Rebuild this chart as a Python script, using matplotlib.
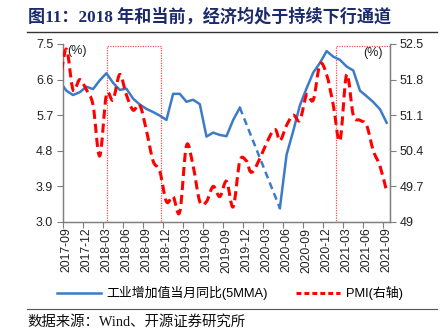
import matplotlib
matplotlib.use('Agg')
import matplotlib.pyplot as plt
import numpy as np
import pandas as pd
from matplotlib.path import Path
from matplotlib.patches import PathPatch, Rectangle
from matplotlib.lines import Line2D

# ---------------- data ----------------
months = pd.period_range('2017-08', '2021-09', freq='M').strftime('%Y-%m').tolist()

ip_5mma = [6.56, 6.32, 6.21, 6.28, 6.42,
           6.36, 6.58, 6.76, 6.52, 6.34, 6.37, 6.12, 5.97, 5.86, 5.78, 5.69, 5.58,
           6.24, 6.24, 6.04, 6.09, 5.98, 5.16, 5.26, 5.20, 5.17, 5.58, 5.89, np.nan,
           np.nan, np.nan, np.nan, np.nan, 3.35, 4.70, 5.30, 5.95, 6.38, 6.78, 7.02, 7.32,
           7.18, 7.10, 6.93, 6.83, 6.32, 6.18, 6.03, 5.85, 5.51]

pmi = [51.7, 52.4, 51.6, 51.8, 51.6,
       51.3, 50.3, 51.5, 51.4, 51.9, 51.5, 51.2, 51.3, 50.8, 50.2, 50.0, 49.4,
       49.5, 49.2, 50.5, 50.1, 49.4, 49.4, 49.7, 49.5, 49.8, 49.3, 50.2, 50.2,
       50.0, np.nan, np.nan, 50.8, 50.6, 50.9, 51.1, 51.0, 51.5, 51.4, 52.1, 51.9,
       51.3, 50.6, 51.9, 51.1, 51.0, 50.9, 50.4, 50.1, 49.6]

tick_labels = ['2017-09', '2017-12', '2018-03', '2018-06', '2018-09', '2018-12',
               '2019-03', '2019-06', '2019-09', '2019-12', '2020-03', '2020-06',
               '2020-09', '2020-12', '2021-03', '2021-06', '2021-09']
left_ticks = [3.0, 3.9, 4.8, 5.7, 6.6, 7.5]
left_tick_labels = ['3.0', '3.9', '4.8', '5.7', '6.6', '7.5']
right_ticks = [49, 49.7, 50.4, 51.1, 51.8, 52.5]
right_tick_labels = ['49', '49.7', '50.4', '51.1', '51.8', '52.5']

title = '图11：2018 年和当前，经济均处于持续下行通道'
legend_labels = ['工业增加值当月同比(5MMA)', 'PMI(右轴)']
source = '数据来源：Wind、开源证券研究所'

# ---------------- style ----------------
BLUE = '#3b7bc8'
RED = '#ff0000'
GRAY = '#7f7f7f'
CJK = ['Liberation Sans', 'Noto Sans CJK SC']
plt.rcParams['font.family'] = CJK

fig = plt.figure(figsize=(4.46, 3.36), dpi=100)
ax = fig.add_axes([63 / 446, 114 / 336, 327 / 446, 178 / 336])
ax2 = ax.twinx()

x = np.arange(len(months)) - 1  # index 0 = 2017-09
ip = np.array(ip_5mma, dtype=float)
pm = np.array(pmi, dtype=float)

# blue solid line (gaps) + dashed connector across missing values
ax.plot(x, ip, color=BLUE, lw=1.8, solid_joinstyle='round', zorder=3)
valid = np.where(~np.isnan(ip))[0]
for a, b in zip(valid[:-1], valid[1:]):
    if b - a > 1:
        ax.plot([x[a], x[b]], [ip[a], ip[b]], color=BLUE, lw=1.8,
                linestyle=(0, (2.8, 1.8)), dash_capstyle='butt', zorder=3)

# red smoothed (Excel-style) dashed line
mv = ~np.isnan(pm)
px, py = x[mv].astype(float), pm[mv]
pts = np.column_stack([px, py])
verts = [pts[0]]
codes = [Path.MOVETO]
n = len(pts)
for k in range(n - 1):
    p0 = pts[k - 1] if k > 0 else pts[k]
    p1 = pts[k]
    p2 = pts[k + 1]
    p3 = pts[k + 2] if k + 2 < n else pts[k + 1]
    verts += [p1 + (p2 - p0) / 6.0, p2 - (p3 - p1) / 6.0, p2]
    codes += [Path.CURVE4] * 3
patch = PathPatch(Path(verts, codes), facecolor='none', edgecolor=RED, lw=2.2,
                  linestyle=(0, (3.0, 1.6)), capstyle='butt', zorder=4)
ax2.add_patch(patch)

# highlight boxes (2018-03..2018-11 and 2021-02..end)
box_x = [(6.15, 14.2), (40.4, 48.45)]
for (x0, x1) in box_x:
    r = Rectangle((x0, 3.0), x1 - x0, 7.46 - 3.0, facecolor='none', edgecolor='#ff4d4d',
                  lw=0.9, linestyle=(0, (1, 1)), zorder=2)
    ax.add_patch(r)

ax.set_xlim(-0.5, 48.5)
ax.set_ylim(3.0, 7.5)
ax2.set_ylim(49, 52.5)

ax.set_yticks(left_ticks)
ax.set_yticklabels(left_tick_labels)
ax2.set_yticks(right_ticks)
ax2.set_yticklabels(right_tick_labels)

ax.set_xticks(np.arange(0, 49, 3))
ax.set_xticklabels(tick_labels, rotation=90)
ax.set_xticks(np.arange(-0.5, 49, 3), minor=True)
ax.tick_params(axis='x', which='major', length=0, pad=4, labelsize=8.7, colors='#222222')
ax.tick_params(axis='x', which='minor', length=4, color=GRAY, width=0.8)
ax.tick_params(axis='y', length=4, color=GRAY, width=0.8, labelsize=9, labelcolor='#222222', pad=3)
ax2.tick_params(axis='y', length=4, color=GRAY, width=0.8, labelsize=9, labelcolor='#222222', pad=3)

for a in (ax, ax2):
    a.spines['top'].set_visible(False)
    for s in ('left', 'right', 'bottom'):
        a.spines[s].set_color(GRAY)
        a.spines[s].set_linewidth(0.9)

ax.text(0.012, 0.995, '(%)', transform=ax.transAxes, ha='left', va='top', fontsize=9, color='#222222')
ax.text(0.978, 0.985, '(%)', transform=ax.transAxes, ha='right', va='top', fontsize=9, color='#222222')

# title and lines
fig.text(28 / 446, 1 - 17 / 336, title, ha='left', va='center', fontsize=12.3, fontweight='bold',
         color='#1b2a6b', family=['Liberation Serif', 'Noto Sans CJK SC'])
fig.add_artist(Line2D([27 / 446, 437 / 446], [1 - 32 / 336, 1 - 32 / 336], color='#333333', lw=1.0,
                      transform=fig.transFigure))
fig.add_artist(Line2D([27 / 446, 437 / 446], [1 - 309 / 336, 1 - 309 / 336], color='#555555', lw=0.8,
                      transform=fig.transFigure))

# legend
handles = [Line2D([], [], color=BLUE, lw=1.8),
           Line2D([], [], color=RED, lw=2.2, linestyle=(0, (1.6, 1.0)))]
fig.legend(handles, legend_labels, loc='center', bbox_to_anchor=(230 / 446, 1 - 293 / 336), ncol=2,
           frameon=False, fontsize=9.3, handlelength=3.4, columnspacing=2.2, handletextpad=0.45)

fig.text(27 / 446, 1 - 322 / 336, source, ha='left', va='center', fontsize=10.4, color='#111111',
         family=['Liberation Serif', 'Noto Sans CJK SC'])

fig.savefig('out.png', dpi=100)
